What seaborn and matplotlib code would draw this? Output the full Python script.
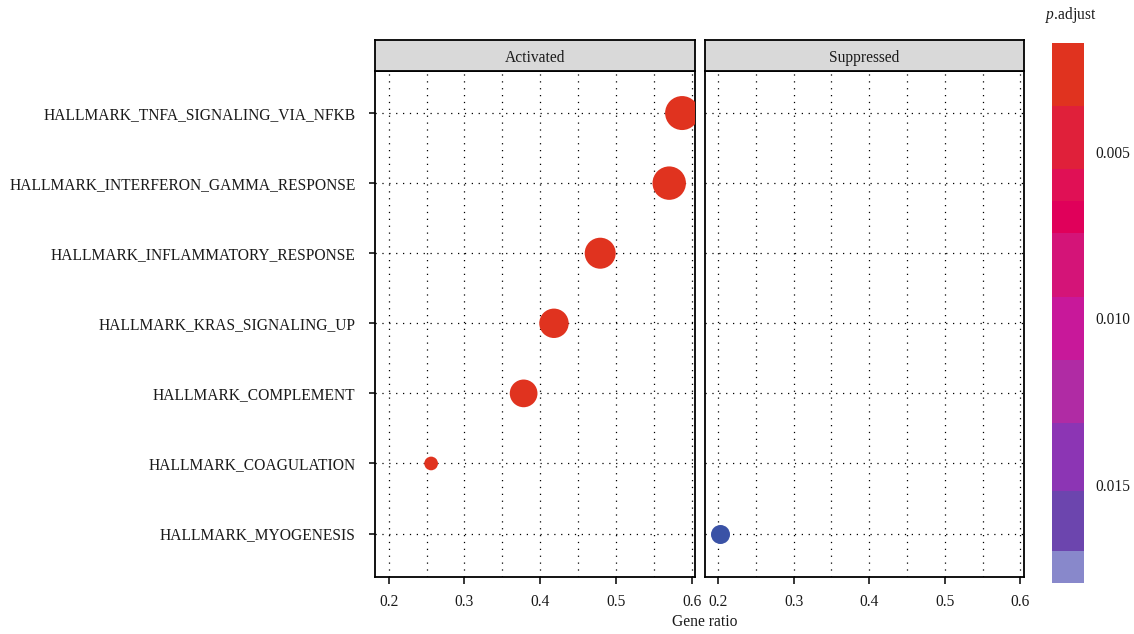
import numpy as np
import pandas as pd
import matplotlib
matplotlib.use("Agg")
import matplotlib.pyplot as plt
import matplotlib.colors as mcolors
import seaborn as sns

# ---------------- data ----------------
categories = [
    "HALLMARK_TNFA_SIGNALING_VIA_NFKB",
    "HALLMARK_INTERFERON_GAMMA_RESPONSE",
    "HALLMARK_INFLAMMATORY_RESPONSE",
    "HALLMARK_KRAS_SIGNALING_UP",
    "HALLMARK_COMPLEMENT",
    "HALLMARK_COAGULATION",
    "HALLMARK_MYOGENESIS",
]
gene_ratio = [0.587, 0.570, 0.479, 0.418, 0.378, 0.256, 0.203]
counts = [60, 58, 50, 45, 40, 10, 19]
p_adjust = [0.0018, 0.0019, 0.0021, 0.0024, 0.0026, 0.0033, 0.0185]
status = ["Activated"] * 6 + ["Suppressed"]
panels = ["Activated", "Suppressed"]
x_ticks = [0.2, 0.3, 0.4, 0.5, 0.6]
cbar_ticks = [0.005, 0.010, 0.015]
cbar_tick_labels = ["0.005", "0.010", "0.015"]
bin_edges = [0.00173, 0.00362, 0.00552, 0.00648, 0.00744, 0.00936,
             0.01125, 0.01314, 0.01519, 0.01699, 0.01795]
bin_colors = ["#E0331F", "#E0203A", "#E01055", "#E0005A", "#D41478",
              "#C8189A", "#B02BA4", "#8C35B4", "#6C45AE", "#8888CB"]
over_color = "#3A52A6"

df = pd.DataFrame({
    "Description": categories,
    "GeneRatio": gene_ratio,
    "Count": counts,
    "p.adjust": p_adjust,
    "status": status,
})
df["row"] = [categories.index(c) for c in df["Description"]]

# ---------------- style ----------------
sns.set_style("white")
plt.rcParams["font.family"] = ["Liberation Serif", "DejaVu Serif"]
plt.rcParams["mathtext.fontset"] = "custom"
plt.rcParams["mathtext.it"] = "Liberation Serif:italic"
plt.rcParams["mathtext.rm"] = "Liberation Serif"
txt_color = "#1a1a1a"

cmap = mcolors.ListedColormap(bin_colors)
cmap.set_over(over_color)
cmap.set_under(bin_colors[0])
norm = mcolors.BoundaryNorm(bin_edges, cmap.N)

W, H = 1134, 634
fig = plt.figure(figsize=(W / 100, H / 100), dpi=100)


def rect(x0, y0, x1, y1):
    return [x0 / W, 1 - y1 / H, (x1 - x0) / W, (y1 - y0) / H]


ax_rects = [rect(375, 71, 695, 577), rect(704.5, 71, 1023.5, 577)]
strip_rects = [rect(375, 40, 695, 71), rect(704.5, 40, 1023.5, 71)]

for i, panel in enumerate(panels):
    ax = fig.add_axes(ax_rects[i])
    sub = df[df["status"] == panel]
    sns.scatterplot(
        data=sub, x="GeneRatio", y="row",
        hue="p.adjust", palette=cmap, hue_norm=norm,
        size="Count", sizes=(97, 599), size_norm=(10, 60),
        linewidth=0, legend=False, ax=ax, zorder=3,
    )
    ax.set_xlim(0.182, 0.604)
    ax.set_ylim(len(categories) - 1 + 0.62, -0.6)
    ax.set_xticks(x_ticks)
    ax.set_xticklabels([f"{v:.1f}" for v in x_ticks])
    ax.set_xticks(np.arange(0.25, 0.6, 0.1), minor=True)
    ax.set_yticks(range(len(categories)))
    ax.grid(which="both", axis="x", color="black",
            linestyle=(0, (1, 4.5)), linewidth=0.9)
    ax.grid(which="major", axis="y", color="black",
            linestyle=(0, (1, 4.5)), linewidth=0.9)
    ax.set_axisbelow(True)
    ax.set_xlabel("")
    ax.set_ylabel("")
    for s in ax.spines.values():
        s.set_color("black")
        s.set_linewidth(1.3)
    ax.tick_params(axis="x", which="major", direction="out", length=5,
                   width=1.1, color="black", labelsize=11.2,
                   labelcolor=txt_color, pad=7, bottom=True)
    ax.tick_params(axis="x", which="minor", length=0)
    if i == 0:
        ax.set_yticklabels(categories)
        ax.tick_params(axis="y", direction="out", length=4, width=1.1,
                       color="black", labelsize=11.2, labelcolor=txt_color,
                       pad=10, left=True)
    else:
        ax.set_yticklabels([])
        ax.tick_params(axis="y", length=0)

    sax = fig.add_axes(strip_rects[i])
    sax.set_facecolor("#D9D9D9")
    sax.set_xticks([])
    sax.set_yticks([])
    for s in sax.spines.values():
        s.set_color("black")
        s.set_linewidth(1.3)
    sax.text(0.5, 0.42, panel, ha="center", va="center",
             fontsize=11.2, color=txt_color, transform=sax.transAxes)

fig.text(705 / W, 1 - 622 / H, "Gene ratio", ha="center", va="center",
         fontsize=11.2, color=txt_color)

# ---------------- colorbar ----------------
cax = fig.add_axes(rect(1052, 43, 1084, 583))
sm = matplotlib.cm.ScalarMappable(norm=norm, cmap=cmap)
cb = fig.colorbar(sm, cax=cax, spacing="proportional", extend="neither")
cb.outline.set_visible(False)
cb.set_ticks(cbar_ticks)
cb.set_ticklabels(cbar_tick_labels)
cax.invert_yaxis()
cax.tick_params(direction="in", color="white", length=6, width=1.3,
                left=True, right=True, labelleft=False, labelright=True,
                labelsize=11.2, labelcolor=txt_color, pad=8)
cax.minorticks_off()
fig.text(1071 / W, 1 - 15 / H, r"$\it{p}$.adjust", ha="center", va="center",
         fontsize=11.2, color=txt_color)

fig.savefig("out.png", dpi=100)
